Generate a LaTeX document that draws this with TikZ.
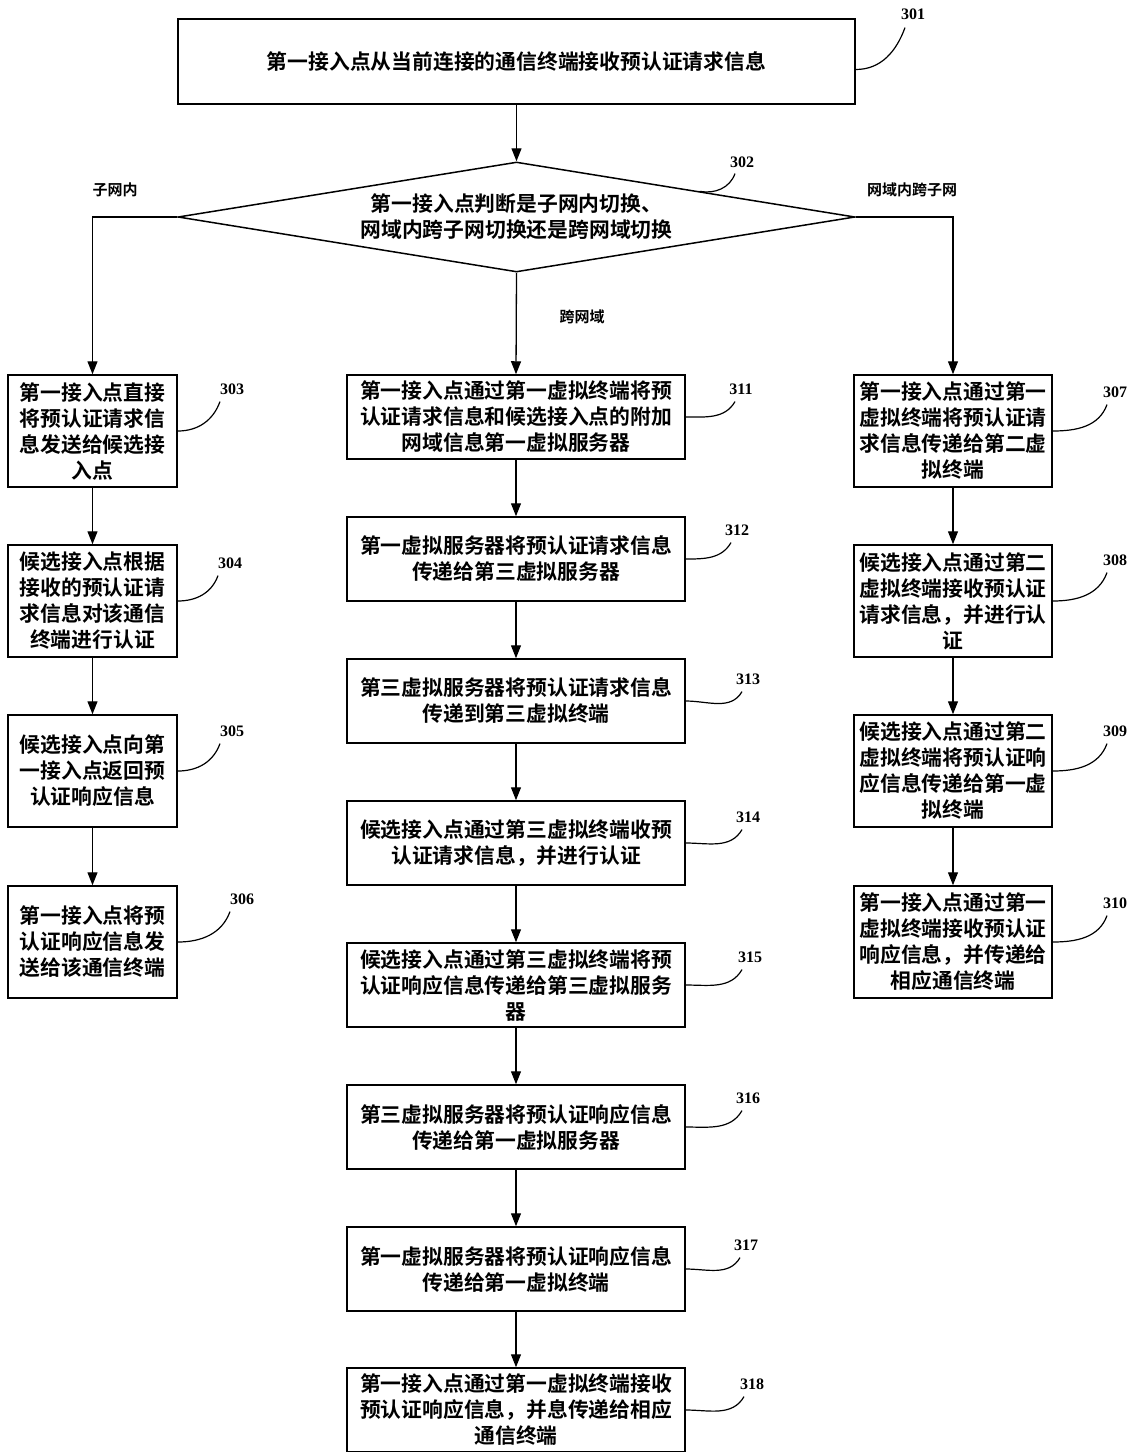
\documentclass[tikz,border=0pt]{standalone}
\usepackage{fontspec}
\newfontfamily\cjk{Noto Sans CJK SC}[BoldFont={Noto Sans CJK SC Bold}]
\newfontfamily\numf{Liberation Serif}
\usetikzlibrary{shapes.geometric,arrows.meta,calc}
\tikzset{
  stepbox/.style={draw,line width=1.5pt,rectangle,inner sep=0pt,align=center,
    font=\cjk\bfseries\fontsize{20.8}{26}\selectfont},
  lbox/.style={stepbox,minimum width=169pt,minimum height=112pt},
  mbox/.style={stepbox,minimum width=338pt,minimum height=84pt},
  rbox/.style={stepbox,minimum width=198pt,minimum height=112pt},
  flow/.style={line width=1.3pt,-{Triangle[length=13pt,width=10pt]}},
  leader/.style={line width=1.2pt},
  num/.style={font=\numf\bfseries\fontsize{16}{16}\selectfont,inner sep=1pt},
  brlab/.style={font=\cjk\bfseries\fontsize{15}{15}\selectfont,inner sep=1pt}
}
\begin{document}
\begin{tikzpicture}[x=1pt,y=-1pt]
\useasboundingbox (0,0) rectangle (1136,1452);
% top
\node[stepbox,minimum width=677pt,minimum height=85pt] (b301) at (516.5,61.5) {第一接入点从当前连接的通信终端接收预认证请求信息};
\node[draw,line width=1.5pt,diamond,aspect=6.15,minimum width=677pt,minimum height=110pt,inner sep=0pt,align=center,
  font=\cjk\bfseries\fontsize{20.8}{26}\selectfont] (b302) at (516.5,217) {第一接入点判断是子网内切换、\\网域内跨子网切换还是跨网域切换};
% left
\node[lbox] (b303) at (92.5,431) {第一接入点直接\\将预认证请求信\\息发送给候选接\\入点};
\node[lbox] (b304) at (92.5,601) {候选接入点根据\\接收的预认证请\\求信息对该通信\\终端进行认证};
\node[lbox] (b305) at (92.5,771) {候选接入点向第\\一接入点返回预\\认证响应信息};
\node[lbox] (b306) at (92.5,942) {第一接入点将预\\认证响应信息发\\送给该通信终端};
% middle
\node[mbox] (b311) at (516,417) {第一接入点通过第一虚拟终端将预\\认证请求信息和候选接入点的附加\\网域信息第一虚拟服务器};
\node[mbox] (b312) at (516,559) {第一虚拟服务器将预认证请求信息\\传递给第三虚拟服务器};
\node[mbox] (b313) at (516,701) {第三虚拟服务器将预认证请求信息\\传递到第三虚拟终端};
\node[mbox] (b314) at (516,843) {候选接入点通过第三虚拟终端收预\\认证请求信息，并进行认证};
\node[mbox] (b315) at (516,985) {候选接入点通过第三虚拟终端将预\\认证响应信息传递给第三虚拟服务\\器};
\node[mbox] (b316) at (516,1127) {第三虚拟服务器将预认证响应信息\\传递给第一虚拟服务器};
\node[mbox] (b317) at (516,1269) {第一虚拟服务器将预认证响应信息\\传递给第一虚拟终端};
\node[mbox] (b318) at (516,1410) {第一接入点通过第一虚拟终端接收\\预认证响应信息，并息传递给相应\\通信终端};
% right
\node[rbox] (b307) at (953,431) {第一接入点通过第一\\虚拟终端将预认证请\\求信息传递给第二虚\\拟终端};
\node[rbox] (b308) at (953,601) {候选接入点通过第二\\虚拟终端接收预认证\\请求信息，并进行认\\证};
\node[rbox] (b309) at (953,771) {候选接入点通过第二\\虚拟终端将预认证响\\应信息传递给第一虚\\拟终端};
\node[rbox] (b310) at (953,942) {第一接入点通过第一\\虚拟终端接收预认证\\响应信息，并传递给\\相应通信终端};
% branch labels
\node[brlab] (t1) at (115,190) {子网内};
\node[brlab] (t2) at (912,190) {网域内跨子网};
\node[brlab] (t3) at (582,317) {跨网域};
% connectors
\draw[flow] (b301) -- (b302);
\draw[flow] (b302.west) -| (b303.north);
\draw[flow] (b302.east) -| (b307.north);
\draw[flow] (b302.south) -- (b311.north);
\draw[flow] (b303) -- (b304);
\draw[flow] (b304) -- (b305);
\draw[flow] (b305) -- (b306);
\draw[flow] (b311) -- (b312);
\draw[flow] (b312) -- (b313);
\draw[flow] (b313) -- (b314);
\draw[flow] (b314) -- (b315);
\draw[flow] (b315) -- (b316);
\draw[flow] (b316) -- (b317);
\draw[flow] (b317) -- (b318);
\draw[flow] (b307) -- (b308);
\draw[flow] (b308) -- (b309);
\draw[flow] (b309) -- (b310);
% number labels
\node[num] (n301) at (913,14) {301};
\node[num] (n302) at (742,162) {302};
\node[num] (n303) at (232,389) {303};
\node[num] (n304) at (230,563) {304};
\node[num] (n305) at (232,731) {305};
\node[num] (n306) at (242,899) {306};
\node[num] (n311) at (741,389) {311};
\node[num] (n312) at (737,530) {312};
\node[num] (n313) at (748,679) {313};
\node[num] (n314) at (748,817) {314};
\node[num] (n315) at (750,957) {315};
\node[num] (n316) at (748,1098) {316};
\node[num] (n317) at (746,1245) {317};
\node[num] (n318) at (752,1384) {318};
\node[num] (n307) at (1115,392) {307};
\node[num] (n308) at (1115,560) {308};
\node[num] (n309) at (1115,731) {309};
\node[num] (n310) at (1115,903) {310};
% leaders
\draw[leader] ([yshift=-8pt]b301.east) to[out=0,in=250] ([xshift=-8pt,yshift=-7pt]n301.south);
\draw[leader] ($(b302.north)!0.54!(b302.east)$) to[out=-10,in=250] ([xshift=-7pt,yshift=-5pt]n302.south);
\draw[leader] (b303.east) to[out=0,in=250] ([xshift=-12pt,yshift=-6pt]n303.south);
\draw[leader] (b304.east) to[out=0,in=250] ([xshift=-12pt,yshift=-6pt]n304.south);
\draw[leader] (b305.east) to[out=0,in=250] ([xshift=-12pt,yshift=-6pt]n305.south);
\draw[leader] (b306.east) to[out=0,in=250] ([xshift=-12pt,yshift=-6pt]n306.south);
\draw[leader] (b311.east) to[out=0,in=240] ([xshift=-6pt,yshift=-6pt]n311.south);
\draw[leader] (b312.east) to[out=0,in=240] ([xshift=-6pt,yshift=-6pt]n312.south);
\draw[leader] (b313.east) to[out=0,in=240] ([xshift=-6pt,yshift=-6pt]n313.south);
\draw[leader] (b314.east) to[out=0,in=240] ([xshift=-6pt,yshift=-6pt]n314.south);
\draw[leader] (b315.east) to[out=0,in=240] ([xshift=-8pt,yshift=-6pt]n315.south);
\draw[leader] (b316.east) to[out=0,in=240] ([xshift=-6pt,yshift=-6pt]n316.south);
\draw[leader] (b317.east) to[out=0,in=240] ([xshift=-6pt,yshift=-6pt]n317.south);
\draw[leader] (b318.east) to[out=0,in=240] ([xshift=-8pt,yshift=-6pt]n318.south);
\draw[leader] (b307.east) to[out=0,in=250] ([xshift=-8pt,yshift=-6pt]n307.south);
\draw[leader] (b308.east) to[out=0,in=250] ([xshift=-8pt,yshift=-6pt]n308.south);
\draw[leader] (b309.east) to[out=0,in=250] ([xshift=-8pt,yshift=-6pt]n309.south);
\draw[leader] (b310.east) to[out=0,in=250] ([xshift=-8pt,yshift=-6pt]n310.south);
\end{tikzpicture}
\end{document}
